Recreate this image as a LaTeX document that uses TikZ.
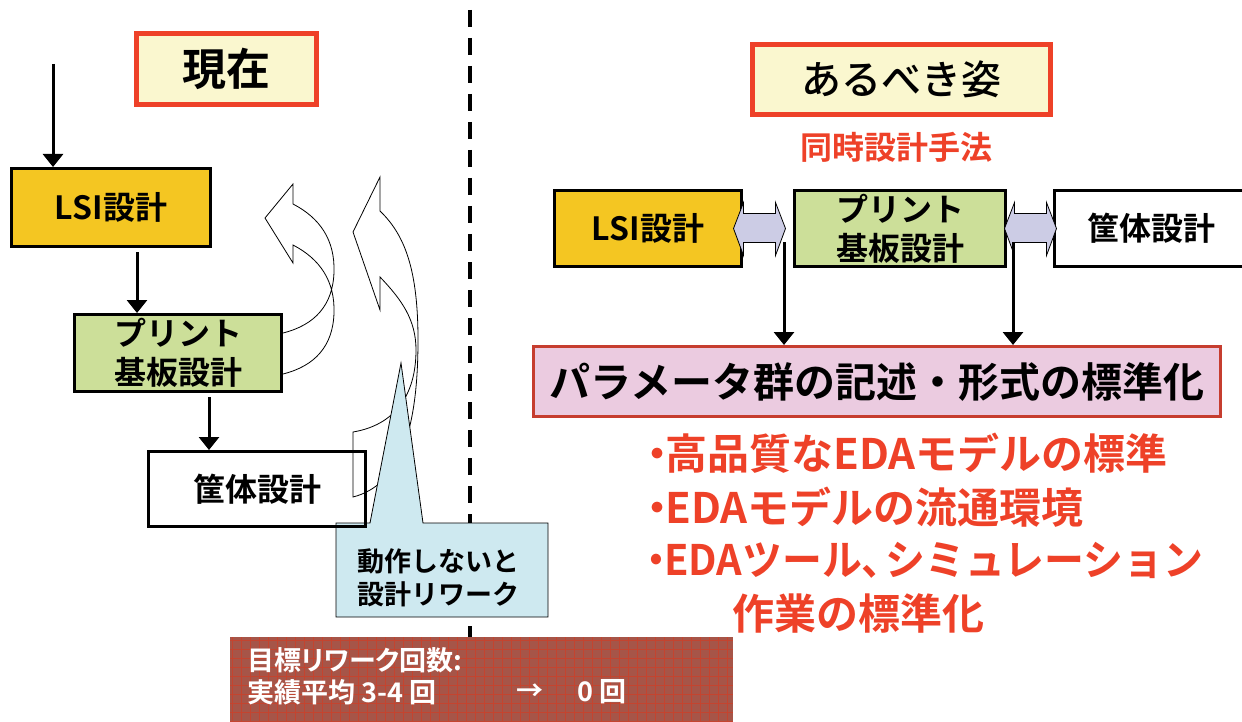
\documentclass[tikz,border=0pt]{standalone}
\usepackage{fontspec}
\setmainfont{Noto Sans CJK JP}[BoldFont={Noto Sans CJK JP Bold}]
\newfontfamily\medfont{Noto Sans CJK JP Medium}
\newfontfamily\propfont{Noto Sans CJK JP Bold}[RawFeature=+palt]
\usetikzlibrary{arrows.meta,calc}
\definecolor{tred}{HTML}{EE4128}
\definecolor{tyellow}{HTML}{FAF7CF}
\definecolor{lsiY}{HTML}{F4C622}
\definecolor{pcbG}{HTML}{CCDF99}
\definecolor{pinkF}{HTML}{EBCBE0}
\definecolor{pinkB}{HTML}{C63D2F}
\definecolor{callB}{HTML}{CEE9F0}
\definecolor{lav}{HTML}{CCCCE5}
\definecolor{brick}{HTML}{A65548}
\definecolor{brickL}{HTML}{C4442F}
\newcommand{\dblarr}[2]{%
  \draw[blk,fill=lav] (#1) -- ($(#1)+(10,-26)$) -- ($(#1)+(10,-15)$) -- ($(#2)+(-10,-15)$) -- ($(#2)+(-10,-26)$) -- (#2) -- ($(#2)+(-10,27)$) -- ($(#2)+(-10,14)$) -- ($(#1)+(10,14)$) -- ($(#1)+(10,27)$) -- cycle;}
\begin{document}
\begin{tikzpicture}[x=1pt,y=-1pt,
  box/.style={draw=black,line width=3pt,inner sep=0pt,font=\bfseries\fontsize{32}{39}\selectfont,align=center},
  titlebox/.style={draw=tred,fill=tyellow,line width=5pt,inner sep=0pt},
  arr/.style={line width=3pt,-{Triangle[width=20pt,length=13pt]}},
  blk/.style={line width=0.8pt,line join=miter},
  redtxt/.style={text=tred,font=\bfseries\fontsize{42}{50}\selectfont,anchor=west,inner sep=0pt},
  goaltxt/.style={text=white,font=\propfont\fontsize{27}{32}\selectfont,anchor=west,inner sep=0pt}]
\useasboundingbox (0,0) rectangle (1242,722);
\clip (0,0) rectangle (1242,722);

% divider
\coordinate (d1) at (470,10);
\coordinate (d2) at (470,722);
\draw[line width=4pt,dash pattern=on 17pt off 11pt] (d1) -- (d2);

% titles
\node[titlebox,minimum width=180pt,minimum height=71pt,font=\bfseries\fontsize{44}{50}\selectfont] (now) at (226.5,69) {現在};
\node[titlebox,minimum width=298pt,minimum height=70pt,font=\medfont\fontsize{40}{46}\selectfont] (ideal) at (901.5,79.5) {あるべき姿};
\node[text=tred,font=\bfseries\fontsize{32}{36}\selectfont,inner sep=0pt] (method) at (896,147) {同時設計手法};

% left flow
\node[box,fill=lsiY,minimum width=199pt,minimum height=78pt] (lsiL) at (111,207.5) {LSI設計};
\node[box,fill=pcbG,minimum width=207pt,minimum height=77pt] (pcbL) at (178,353) {プリント\\基板設計};

\coordinate (inL) at (53,64);
\draw[arr] (inL) -- (inL |- lsiL.north);
\coordinate (xa) at (137,0);
\draw[arr,shorten <=4pt] (lsiL.south -| xa) -- (pcbL.north -| xa);
\coordinate (xb) at (209,0);
\node[box,minimum width=217pt,minimum height=75pt] (caseLpos) at (257,489) {};
\draw[arr,shorten <=4pt] (pcbL.south -| xb) -- (caseLpos.north -| xb);

% curved rework arrows
\draw[blk] (283,333) .. controls (315,325) and (333,305) .. (334,272)
  .. controls (335,240) and (320,218) .. (293,204) -- (293,184) -- (265,218) -- (293,263) -- (293,245)
  .. controls (320,259) and (335,281) .. (334,313) .. controls (333,346) and (315,366) .. (283,374);
\draw[blk] (353,497) .. controls (400,485) and (418,430) .. (418,340)
  .. controls (418,270) and (405,235) .. (380,211) -- (380,177) -- (353,232) -- (380,310) -- (380,277)
  .. controls (402,300) and (416,320) .. (416,350) .. controls (416,395) and (395,425) .. (353,432) -- cycle;

% callout
\coordinate (cp) at (401,363);
\draw[blk,fill=callB] (336,523) -- (370,523) -- (cp) -- (423,523) -- (548,523) -- (548,617) -- (336,617) -- cycle;
\node[anchor=west,align=left,font=\bfseries\fontsize{27}{33}\selectfont,inner sep=0pt] (calltxt) at (357,578) {動作しないと\\設計リワーク};

% case box on top
\node[box,minimum width=217pt,minimum height=75pt] (caseL) at (257,489) {筐体設計};

% right flow
\node[box,fill=lsiY,minimum width=187pt,minimum height=76pt] (lsiR) at (648,228.5) {LSI設計};
\node[box,fill=pcbG,minimum width=211pt,minimum height=76pt] (pcbR) at (900,228.5) {プリント\\基板設計};
\node[box,fill=white,minimum width=193pt,minimum height=76pt] (caseR) at (1151,228.5) {筐体設計};

\coordinate (t1) at ([xshift=-9.5pt]lsiR.east);
\coordinate (t2) at ([xshift=-7.5pt]pcbR.west);
\coordinate (t3) at ([xshift=-2.5pt]pcbR.east);
\coordinate (t4) at ([xshift=3.5pt]caseR.west);
\dblarr{t1}{t2}
\dblarr{t3}{t4}

\node[draw=pinkB,fill=pinkF,line width=3pt,minimum width=687pt,minimum height=70pt,inner sep=0pt,font=\bfseries\fontsize{41}{48}\selectfont] (pink) at (877,381.5) {パラメータ群の記述・形式の標準化};

\coordinate (s1) at (784,242);
\coordinate (s2) at (1013,242);
\draw[arr] (s1) -- (s1 |- pink.north);
\draw[arr] (s2) -- (s2 |- pink.north);

\node[redtxt] (r1) at (636,453) {・\kern-0.3em 高品質なEDAモデルの標準};
\node[redtxt] (r2) at (636,507) {・\kern-0.3em EDAモデルの流通環境};
\node[redtxt] (r3) at (636,560) {\scalebox{0.95}[1]{・\kern-0.3em EDAツール、\kern-0.4em シミュレーション}};
\node[redtxt] (r4) at (732,613) {作業の標準化};

% goal box
\begin{scope}
\clip (230,637) rectangle (733,730);
\fill[brick] (230,637) rectangle (733,730);
\foreach \i in {0,...,55} \draw[brickL,line width=0.8pt] (232+9*\i,637) -- (232+9*\i,730);
\foreach \j in {0,...,10} \draw[brickL,line width=0.8pt] (230,640+9*\j) -- (733,640+9*\j);
\end{scope}
\node[goaltxt] (g1) at (247,660) {目標リワーク回数:};
\node[goaltxt] (g2) at (247,692) {実績平均 3-4 回};
\node[goaltxt,anchor=center] (g3) at (530,692) {→};
\node[goaltxt] (g4) at (577,692) {0 回};
\end{tikzpicture}
\end{document}
